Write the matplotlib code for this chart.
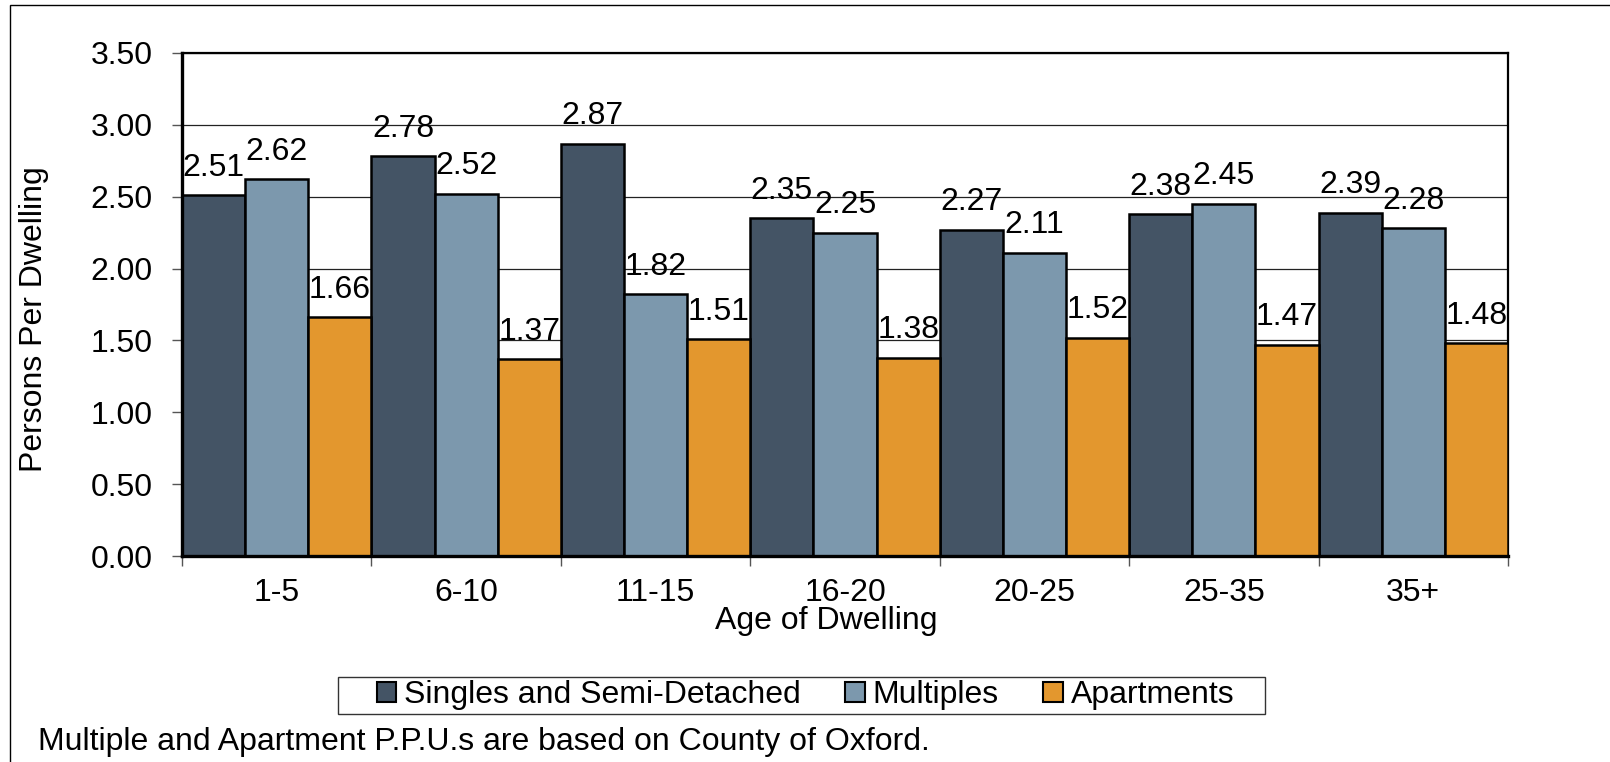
import matplotlib
matplotlib.use("Agg")
import matplotlib.pyplot as plt
import numpy as np
from matplotlib.patches import Rectangle, Patch

plt.rcParams["font.family"] = ["Liberation Sans", "DejaVu Sans"]

ages = ["1-5", "6-10", "11-15", "16-20", "20-25", "25-35", "35+"]
singles = [2.51, 2.78, 2.87, 2.35, 2.27, 2.38, 2.39]
multiples = [2.62, 2.52, 1.82, 2.25, 2.11, 2.45, 2.28]
apartments = [1.66, 1.37, 1.51, 1.38, 1.52, 1.47, 1.48]
series_names = ["Singles and Semi-Detached", "Multiples", "Apartments"]
y_ticks = [0.0, 0.5, 1.0, 1.5, 2.0, 2.5, 3.0, 3.5]

colors = ["#445465", "#7C98AD", "#E3972E"]
FS = 23
W, H = 1610, 762
fig = plt.figure(figsize=(W / 100, H / 100), dpi=100)
ax = fig.add_axes([182 / W, 1 - 556 / H, (1508 - 182) / W, (556 - 53) / H])

x = np.arange(len(ages))
width = 1 / 3
for i, (vals, col) in enumerate(zip([singles, multiples, apartments], colors)):
    pos = x + (i - 1) * width
    ax.bar(pos, vals, width=width, color=col, edgecolor="black", linewidth=1.8, zorder=3)
    for px, v in zip(pos, vals):
        ax.annotate(f"{v:.2f}", (px, v), xytext=(0, 14), textcoords="offset points",
                    ha="center", va="baseline", fontsize=FS, zorder=4)

ax.set_xlim(-0.5, len(ages) - 0.5)
ax.set_ylim(0, 3.5)
ax.set_yticks(y_ticks)
ax.set_yticklabels([f"{t:.2f}" for t in y_ticks], fontsize=FS)
ax.set_xticks(x)
ax.set_xticklabels(ages, fontsize=FS)
ax.set_xticks(np.arange(-0.5, len(ages)), minor=True)
ax.tick_params(axis="x", which="major", length=0, pad=16)
ax.tick_params(axis="x", which="minor", length=7, width=1, color="#555555", direction="out")
ax.tick_params(axis="y", length=7, width=1, color="#555555", pad=14)

ax.grid(axis="y", color="#222222", linewidth=0.9, zorder=0)
ax.set_axisbelow(True)
for side in ["left", "bottom"]:
    ax.spines[side].set_linewidth(2.4)
for side in ["top", "right"]:
    ax.spines[side].set_linewidth(1.6)
ax.spines["left"].set_zorder(5)
ax.spines["bottom"].set_zorder(5)

fig.text(34 / W, 1 - 319 / H, "Persons Per Dwelling", rotation=90, ha="center", va="center", fontsize=FS)
fig.text(826 / W, 1 - 621 / H, "Age of Dwelling", ha="center", va="center", fontsize=FS)
fig.text(38 / W, 1 - 742 / H, "Multiple and Apartment P.P.U.s are based on County of Oxford.",
         ha="left", va="center", fontsize=FS)

handles = [Patch(facecolor=c, edgecolor="black", linewidth=1.5) for c in colors]
fig.legend(handles, series_names, loc="center", bbox_to_anchor=(805.5 / W, 1 - 695.5 / H),
           ncol=3, fontsize=FS, frameon=False,
           handlelength=0.6, handleheight=0.6, handletextpad=0.25, columnspacing=1.4,
           borderpad=0, borderaxespad=0)
# legend box
fig.add_artist(Rectangle((338 / W, 1 - 714 / H), (1265 - 338) / W, 37 / H,
                         transform=fig.transFigure, fill=False, edgecolor="#333333", linewidth=1.0))

# outer chart frame, open on the right and bottom edges
fig.add_artist(Rectangle((10 / W, -0.5), 2, 1.5 - 5 / H, transform=fig.transFigure,
                         fill=False, edgecolor="black", linewidth=1.0))

fig.savefig("out.png", dpi=100)
